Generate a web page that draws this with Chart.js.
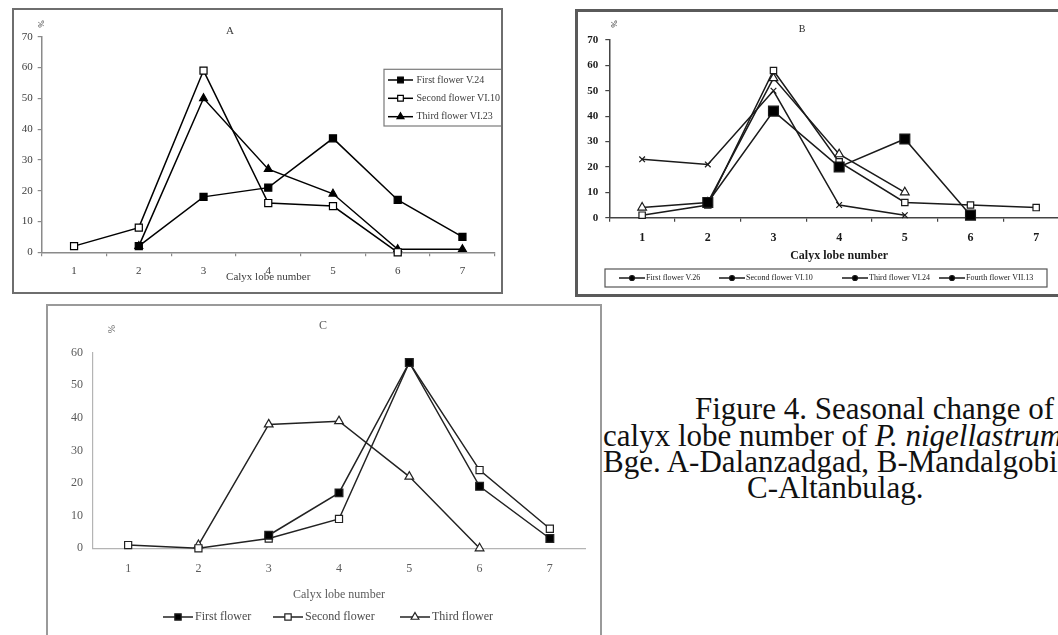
<!DOCTYPE html>
<html>
<head>
<meta charset="utf-8">
<script src="https://cdn.jsdelivr.net/npm/chart.js@4.4.1/dist/chart.umd.min.js"></script>
<style>
  html, body { margin: 0; padding: 0; width: 1058px; height: 635px; overflow: hidden; background: #fff; }
  .frame { position: absolute; box-sizing: border-box; }
  canvas { position: absolute; }
  .cap { position: absolute; font-family: 'Liberation Serif', 'Times New Roman', serif; font-size: 31px;
         line-height: 31px; white-space: nowrap; color: #111; }
</style>
</head>
<body>
<div class="frame" style="left:12px;top:8px;width:491px;height:286px;border:2px solid #6e6e6e"></div>
<div class="frame" style="left:575px;top:9px;width:600px;height:288px;border:3px solid #5a5a5a"></div>
<div class="frame" style="left:46px;top:304px;width:556px;height:400px;border:2px solid #9a9a9a"></div>

<canvas id="panelA" width="487" height="282" style="left:14px;top:10px"></canvas>
<canvas id="panelB" width="502" height="281" style="left:578px;top:12px"></canvas>
<canvas id="panelC" width="552" height="329" style="left:48px;top:306px"></canvas>

<div class="cap" style="left:695px;top:393px">Figure 4. Seasonal change of</div>
<div class="cap" style="left:603px;top:420px">calyx lobe number of <i>P. nigellastrum</i></div>
<div class="cap" style="left:603px;top:446px">Bge. A-Dalanzadgad, B-Mandalgobi,</div>
<div class="cap" style="left:747px;top:472px">C-Altanbulag.</div>

<script>
// Calyx lobe number categories and percentage of flowers per category
const lobeNumbers = ['1', '2', '3', '4', '5', '6', '7'];

// A – Dalanzadgad
const aFirst  = [null, 2, 18, 21, 37, 17, 5];
const aSecond = [2, 8, 59, 16, 15, 0, null];
const aThird  = [null, 2, 50, 27, 19, 1, 1];
const aLabels = ['First flower V.24', 'Second flower VI.10', 'Third flower VI.23'];

// B – Mandalgobi
const bFirst  = [null, 6, 42, 20, 31, 1, null];
const bSecond = [1, 5, 58, 22, 6, 5, 4];
const bThird  = [4, 6, 55, 25, 10, null, null];
const bFourth = [23, 21, 50, 5, 1, null, null];
const bLabels = ['First flower V.26', 'Second flower VI.10', 'Third flower VI.24', 'Fourth flower VII.13'];

// C – Altanbulag
const cFirst  = [null, null, 4, 17, 57, 19, 3];
const cSecond = [1, 0, 3, 9, 57, 24, 6];
const cThird  = [null, 1, 38, 39, 22, 0, null];
const cLabels = ['First flower', 'Second flower', 'Third flower'];

const yMaxAB = 70;
const yMaxC = 60;
const yStep = 10;

const SERIF = "'Liberation Serif', 'Times New Roman', serif";

// Panel letter, rotated unit label and line+marker key
const panelDecor = {
  id: 'panelDecor',
  afterDraw(chart, args, o) {
    const ctx = chart.ctx;
    ctx.save();
    ctx.fillStyle = o.color;
    ctx.textAlign = 'center';
    ctx.textBaseline = 'middle';
    ctx.font = o.letterFont;
    ctx.fillText(o.letter, o.letterX, o.letterY);
    ctx.save();
    ctx.translate(o.unitX, o.unitY);
    ctx.rotate(-Math.PI / 2);
    ctx.font = o.unitFont;
    ctx.fillText('%', 0, 0);
    ctx.restore();

    const k = o.key;
    if (k.box) {
      ctx.strokeStyle = k.box.color;
      ctx.lineWidth = k.box.width;
      ctx.strokeRect(k.box.x, k.box.y, k.box.w, k.box.h);
    }
    chart.data.datasets.forEach((ds, i) => {
      const x = k.xs[i];
      const y = k.ys[i];
      ctx.strokeStyle = ds.borderColor;
      ctx.lineWidth = ds.borderWidth;
      ctx.beginPath();
      ctx.moveTo(x, y);
      ctx.lineTo(x + k.len, y);
      ctx.stroke();
      ctx.fillStyle = k.pointFill || ds.pointBackgroundColor;
      ctx.strokeStyle = ds.pointBorderColor;
      ctx.lineWidth = ds.pointBorderWidth;
      Chart.helpers.drawPoint(ctx, {
        pointStyle: k.pointStyle || ds.pointStyle,
        radius: k.radius,
        borderWidth: ds.pointBorderWidth,
        rotation: 0
      }, x + k.len / 2, y);
      ctx.fillStyle = k.color;
      ctx.font = k.font;
      ctx.textAlign = 'left';
      ctx.textBaseline = 'middle';
      ctx.fillText(ds.label, x + k.textOffset, y);
    });
    ctx.restore();
  }
};

function series(label, data, style, fill, radius, color, width) {
  return {
    label, data,
    borderColor: color, borderWidth: width,
    pointStyle: style, pointRadius: radius,
    pointBackgroundColor: fill, pointBorderColor: color, pointBorderWidth: 1.2,
    fill: false, tension: 0, spanGaps: false, clip: false
  };
}

function makeOptions(p) {
  return {
    responsive: false,
    animation: false,
    events: [],
    devicePixelRatio: 1,
    layout: { padding: p.padding },
    plugins: {
      legend: { display: false },
      tooltip: { enabled: false },
      title: { display: false },
      panelDecor: p.decor
    },
    scales: {
      x: {
        type: 'category',
        offset: true,
        afterFit(s) { s.height = p.xHeight; },
        grid: p.xGrid,
        border: p.border,
        ticks: { color: p.tickColor, font: p.xTickFont, padding: p.xTickPad, autoSkip: false, maxRotation: 0 },
        title: { display: true, text: 'Calyx lobe number', color: p.titleColor, font: p.titleFont,
                 padding: { top: 0, bottom: p.titlePad } }
      },
      y: {
        min: 0, max: p.yMax,
        afterFit(s) { s.width = p.yWidth; },
        grid: p.yGrid,
        border: p.border,
        ticks: { stepSize: yStep, color: p.tickColor, font: p.yTickFont, padding: p.yTickPad }
      }
    }
  };
}

// Panel A
new Chart(document.getElementById('panelA'), {
  type: 'line',
  data: {
    labels: lobeNumbers,
    datasets: [
      series(aLabels[0], aFirst, 'rect', '#000', 5, '#000', 1.5),
      series(aLabels[1], aSecond, 'rect', '#fff', 5, '#000', 1.5),
      series(aLabels[2], aThird, 'triangle', '#000', 4.5, '#000', 1.5)
    ]
  },
  options: makeOptions({
    padding: { left: 0, right: 1.5, top: 26.7, bottom: 0 },
    yMax: yMaxAB, yWidth: 27.7, xHeight: 39.7,
    xGrid: { display: true, drawOnChartArea: false, drawTicks: true, tickLength: 4, color: '#8a8a8a', offset: true, lineWidth: 1.2 },
    yGrid: { display: true, drawOnChartArea: false, drawTicks: true, tickLength: 4, color: '#8a8a8a', lineWidth: 1.2 },
    border: { display: true, color: '#8a8a8a', width: 1.5 },
    tickColor: '#3c3c3c',
    xTickFont: { family: SERIF, size: 11 }, yTickFont: { family: SERIF, size: 11 },
    xTickPad: 7.8, yTickPad: 5,
    titleColor: '#3c3c3c', titleFont: { family: SERIF, size: 11 }, titlePad: 8.7,
    decor: {
      color: '#3c3c3c', letter: 'A', letterX: 216, letterY: 20.7, letterFont: '11px ' + SERIF,
      unitX: 27.7, unitY: 14, unitFont: '9px ' + SERIF,
      key: {
        box: { x: 370, y: 59.3, w: 118, h: 56.7, color: '#7a7a7a', width: 1.2 },
        xs: [374, 374, 374], ys: [70, 88.3, 106.7], len: 25, textOffset: 28.5, radius: 4,
        font: '10px ' + SERIF, color: '#3c3c3c'
      }
    }
  }),
  plugins: [panelDecor]
});

// Panel B
new Chart(document.getElementById('panelB'), {
  type: 'line',
  data: {
    labels: lobeNumbers,
    datasets: [
      series(bLabels[0], bFirst, 'rect', '#000', 7, '#1a1a1a', 1.5),
      series(bLabels[1], bSecond, 'rect', '#fff', 4.5, '#1a1a1a', 1.5),
      series(bLabels[2], bThird, 'triangle', '#fff', 5, '#1a1a1a', 1.5),
      series(bLabels[3], bFourth, 'crossRot', '#fff', 4, '#1a1a1a', 1.5)
    ]
  },
  options: makeOptions({
    padding: { left: 0, right: 11, top: 28, bottom: 18 },
    yMax: yMaxAB, yWidth: 31.3, xHeight: 57.3,
    xGrid: { display: true, drawOnChartArea: false, drawTicks: true, tickLength: 4, color: '#444', offset: true, lineWidth: 1.2 },
    yGrid: { display: true, drawOnChartArea: false, drawTicks: true, tickLength: 4, color: '#444', lineWidth: 1.2 },
    border: { display: true, color: '#444', width: 1.5 },
    tickColor: '#1a1a1a',
    xTickFont: { family: SERIF, size: 12, weight: 'bold' }, yTickFont: { family: SERIF, size: 11, weight: 'bold' },
    xTickPad: 9.4, yTickPad: 7,
    titleColor: '#1a1a1a', titleFont: { family: SERIF, size: 12, weight: 'bold' }, titlePad: 11.8,
    decor: {
      color: '#2a2a2a', letter: 'B', letterX: 224, letterY: 17, letterFont: '10px ' + SERIF,
      unitX: 37, unitY: 12, unitFont: '9px ' + SERIF,
      key: {
        box: { x: 27, y: 257, w: 442, h: 18, color: '#555', width: 1.2 },
        xs: [41, 141, 264, 361], ys: [266, 266, 266, 266], len: 26, textOffset: 27, radius: 2.5,
        pointStyle: 'circle', pointFill: '#000',
        font: '8px ' + SERIF, color: '#1a1a1a'
      }
    }
  }),
  plugins: [panelDecor]
});

// Panel C
new Chart(document.getElementById('panelC'), {
  type: 'line',
  data: {
    labels: lobeNumbers,
    datasets: [
      series(cLabels[0], cFirst, 'rect', '#000', 5.5, '#222', 1.5),
      series(cLabels[1], cSecond, 'rect', '#fff', 5, '#222', 1.5),
      series(cLabels[2], cThird, 'triangle', '#fff', 5, '#222', 1.5)
    ]
  },
  options: makeOptions({
    padding: { left: 0, right: 15, top: 46.7, bottom: 28 },
    yMax: yMaxC, yWidth: 45, xHeight: 58.7,
    xGrid: { display: false, drawOnChartArea: false, drawTicks: false },
    yGrid: { display: false, drawOnChartArea: false, drawTicks: false },
    border: { display: true, color: '#b4b4b4', width: 1.2 },
    tickColor: '#5a5a5a',
    xTickFont: { family: SERIF, size: 12 }, yTickFont: { family: SERIF, size: 12 },
    xTickPad: 13.5, yTickPad: 10,
    titleColor: '#5a5a5a', titleFont: { family: SERIF, size: 12 }, titlePad: 4.8,
    decor: {
      color: '#5a5a5a', letter: 'C', letterX: 275, letterY: 20, letterFont: '12px ' + SERIF,
      unitX: 64, unitY: 23, unitFont: '10px ' + SERIF,
      key: {
        xs: [115, 225, 352], ys: [311, 311, 311], len: 30, textOffset: 32, radius: 4.5,
        font: '12px ' + SERIF, color: '#4a4a4a'
      }
    }
  }),
  plugins: [panelDecor]
});
</script>
</body>
</html>
